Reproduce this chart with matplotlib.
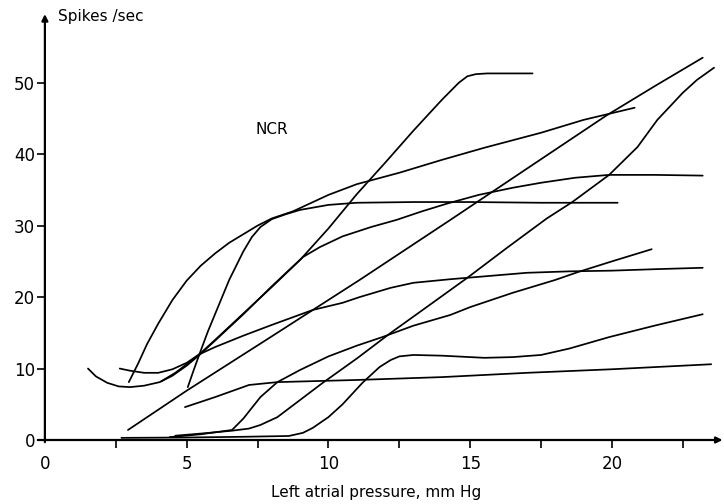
import numpy as np
import matplotlib
matplotlib.use("Agg")
import matplotlib.pyplot as plt

plt.rcParams['font.family'] = ['DejaVu Sans']

# Discharge of individual receptor units against left atrial pressure
unit_a_x = [2.96, 3.3, 3.6, 4.0, 4.5, 5.0, 5.5, 6.0, 6.5, 7.0, 7.5, 8.0, 8.75, 10.0, 11.0, 12.5, 14.0, 15.5, 17.5, 19.0, 20.8]
unit_a_y = [8.1, 10.8, 13.4, 16.3, 19.6, 22.3, 24.4, 26.1, 27.6, 28.8, 30.0, 31.0, 32.0, 34.3, 35.8, 37.4, 39.2, 40.9, 43.0, 44.8, 46.5]

unit_b_x = [5.04, 5.25, 5.45, 5.75, 6.0, 6.5, 7.0, 7.3, 7.6, 8.0, 8.5, 9.0, 10.0, 11.0, 13.0, 15.0, 17.5, 20.2]
unit_b_y = [7.4, 9.8, 12.0, 15.2, 17.6, 22.4, 26.4, 28.4, 29.8, 30.9, 31.6, 32.2, 32.9, 33.2, 33.3, 33.3, 33.2, 33.2]

unit_c_x = [4.1, 4.6, 5.0, 5.45, 6.0, 7.0, 8.0, 9.0, 10.0, 11.0, 12.0, 13.0, 14.0, 14.6, 14.9, 15.2, 15.6, 17.2]
unit_c_y = [8.2, 9.4, 10.6, 12.0, 14.0, 17.7, 21.4, 25.2, 29.6, 34.4, 38.8, 43.3, 47.6, 50.0, 50.9, 51.2, 51.3, 51.3]

unit_d_x = [1.52, 1.8, 2.2, 2.6, 3.0, 3.5, 4.05, 4.5, 5.0, 5.45, 6.0, 7.0, 8.0, 9.1, 9.7, 10.5, 11.5, 12.4, 13.3, 14.2, 15.3, 16.5, 17.5, 18.7, 19.9, 21.5, 23.2]
unit_d_y = [10.0, 8.9, 8.0, 7.5, 7.4, 7.6, 8.1, 9.0, 10.4, 11.9, 13.9, 17.6, 21.5, 25.6, 27.0, 28.5, 29.8, 30.8, 32.0, 33.1, 34.3, 35.3, 36.0, 36.7, 37.1, 37.1, 37.0]

unit_e_x = [2.64, 3.0, 3.5, 4.0, 4.5, 5.0, 5.45, 6.0, 7.0, 8.0, 9.45, 10.5, 11.1, 12.2, 13.0, 14.3, 15.5, 17.0, 18.5, 20.0, 21.5, 23.2]
unit_e_y = [10.0, 9.7, 9.4, 9.4, 9.9, 10.8, 12.0, 13.0, 14.6, 16.1, 18.2, 19.2, 20.0, 21.3, 22.0, 22.5, 22.9, 23.4, 23.6, 23.7, 23.9, 24.1]

unit_f_x = [2.93, 5.0, 8.0, 11.1, 14.3, 17.5, 19.8, 21.5, 23.2]
unit_f_y = [1.4, 6.9, 14.5, 22.4, 30.8, 39.3, 45.4, 49.5, 53.5]

unit_g_x = [4.6, 5.5, 6.6, 7.2, 7.6, 8.2, 9.0, 9.8, 11.0, 12.2, 13.5, 14.9, 16.3, 17.7, 18.6, 19.9, 20.9, 21.6, 22.05, 22.5, 23.0, 23.6]
unit_g_y = [0.6, 0.9, 1.3, 1.6, 2.1, 3.2, 5.6, 8.0, 11.4, 15.0, 18.7, 22.7, 26.9, 31.0, 33.3, 37.1, 41.0, 44.8, 46.7, 48.6, 50.4, 52.1]

unit_h_x = [4.4, 5.5, 6.6, 7.0, 7.6, 8.2, 9.0, 10.0, 11.0, 11.9, 13.0, 14.3, 15.0, 16.5, 18.0, 18.8, 20.0, 21.4]
unit_h_y = [0.4, 0.8, 1.4, 3.0, 6.0, 8.1, 9.8, 11.7, 13.2, 14.4, 16.0, 17.5, 18.6, 20.6, 22.4, 23.5, 25.0, 26.7]

unit_i_x = [2.7, 5.0, 7.0, 8.6, 9.1, 9.45, 10.0, 10.5, 11.2, 11.8, 12.2, 12.5, 13.0, 14.0, 15.5, 16.5, 17.5, 18.5, 19.9, 21.5, 23.2]
unit_i_y = [0.3, 0.35, 0.45, 0.56, 1.0, 1.7, 3.2, 5.0, 8.0, 10.2, 11.2, 11.7, 11.9, 11.8, 11.5, 11.6, 11.9, 12.8, 14.4, 16.0, 17.6]

unit_j_x = [4.94, 6.0, 7.2, 8.2, 11.0, 14.0, 17.0, 20.0, 23.5]
unit_j_y = [4.6, 6.0, 7.7, 8.1, 8.4, 8.8, 9.4, 9.9, 10.6]

units = [
    (unit_a_x, unit_a_y), (unit_b_x, unit_b_y), (unit_c_x, unit_c_y),
    (unit_d_x, unit_d_y), (unit_e_x, unit_e_y), (unit_f_x, unit_f_y),
    (unit_g_x, unit_g_y), (unit_h_x, unit_h_y), (unit_i_x, unit_i_y),
    (unit_j_x, unit_j_y),
]

x_major = [0, 5, 10, 15, 20]
x_minor = [2.5, 7.5, 12.5, 17.5, 22.5]
y_major = [0, 10, 20, 30, 40, 50]

XMAX, YMAX = 23.9, 59.6

fig = plt.figure(figsize=(7.24, 5.04), dpi=100)
ax = fig.add_axes([0.062, 0.127, 0.936, 0.845])

for ux, uy in units:
    ax.plot(ux, uy, color='black', lw=1.25, solid_capstyle='round', solid_joinstyle='round')

ax.set_xlim(0, XMAX)
ax.set_ylim(0, YMAX)
for s in ax.spines.values():
    s.set_visible(False)

# axes drawn as arrows
arrow = dict(arrowstyle='-|>', lw=1.6, color='black', mutation_scale=9,
             shrinkA=0, shrinkB=0)
ax.annotate('', xy=(XMAX, 0), xytext=(-0.25, 0), arrowprops=arrow, annotation_clip=False)
ax.annotate('', xy=(0, YMAX), xytext=(0, -0.3), arrowprops=arrow, annotation_clip=False)

ax.set_xticks(x_major)
ax.set_xticklabels([str(v) for v in x_major])
ax.set_xticks(x_minor, minor=True)
ax.set_yticks(y_major)
ax.set_yticklabels([str(v) for v in y_major])
ax.tick_params(axis='x', which='both', direction='out', length=6, width=1.2, pad=5, labelsize=12)
ax.tick_params(axis='y', which='both', direction='out', length=6, width=1.2, pad=1, labelsize=12)
ax.xaxis.get_major_ticks()[0].tick1line.set_visible(False)

ax.text(8.0, 43.4, 'NCR', fontsize=11, ha='center', va='center')
fig.text(58 / 724, 1 - 17 / 504, 'Spikes /sec', fontsize=11, ha='left', va='center')
fig.text(376 / 724, 1 - 493 / 504, 'Left atrial pressure, mm Hg', fontsize=11, ha='center', va='center')

fig.savefig('out.png', dpi=100, facecolor='white')
